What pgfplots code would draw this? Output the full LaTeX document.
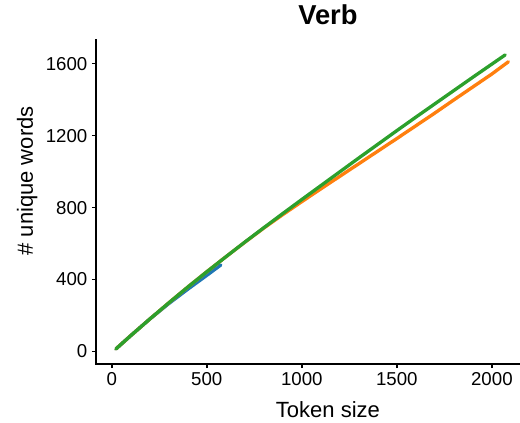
\documentclass[border=0pt]{standalone}
\usepackage{fontspec}
\setmainfont{Liberation Sans}
\usepackage{pgfplots}
\pgfplotsset{compat=1.18}

\definecolor{tabblue}{HTML}{1F77B4}
\definecolor{taborange}{HTML}{FF7F0E}
\definecolor{tabgreen}{HTML}{2CA02C}

\begin{document}
\begin{tikzpicture}
\begin{axis}[
  scale only axis,
  width=318pt, height=243pt,
  xmin=-83, xmax=2148,
  ymin=-70, ymax=1732,
  axis lines=left,
  axis line style={-, line width=1.3pt, line cap=rect},
  xtick={0,500,1000,1500,2000},
  ytick={0,400,800,1200,1600},
  tick align=outside,
  tick style={line width=1.1pt, black},
  major tick length=3pt,
  /pgf/number format/1000 sep={},
  /pgf/number format/assume math mode=true,
  ticklabel style={font=\fontsize{14}{16}\selectfont},
  xlabel={Token size},
  ylabel={\# unique words},
  label style={font=\fontsize{16.5}{19}\selectfont},
  xlabel style={at={(axis description cs:0.547,-0.142)}, anchor=center},
  ylabel style={at={(axis description cs:-0.162,0.565)}, anchor=center},
  title={Verb},
  title style={font=\bfseries\fontsize{20.5}{24}\selectfont,
    at={(axis description cs:0.547,1.054)}, anchor=center},
  every axis plot/.append style={line width=2.5pt, line join=round, line cap=round},
]
% blue series (shortest run)
\addplot[tabblue] coordinates {
  (22,14) (100,88) (200,180) (300,266) (400,346) (500,423) (574,481)
};
% orange series
\addplot[taborange] coordinates {
  (22,14) (100,88) (200,180) (300,270) (400,358) (500,443) (600,526)
  (700,607) (800,686) (900,761) (1000,833) (1100,904) (1200,974)
  (1300,1044) (1400,1114) (1500,1184) (1600,1255) (1700,1326)
  (1800,1399) (1900,1471) (2000,1543) (2087,1611)
};
% green series
\addplot[tabgreen] coordinates {
  (22,14) (100,88) (200,180) (300,270) (400,358) (500,443) (600,526)
  (700,608) (800,688) (900,767) (1000,845) (1100,922) (1200,999)
  (1300,1076) (1400,1152) (1500,1228) (1600,1303) (1700,1377)
  (1800,1451) (1900,1525) (2000,1598) (2070,1649)
};
\end{axis}
\pgfresetboundingbox
\path[use as bounding box]
  ([shift={(-72pt,-43.5pt)}]current axis.south west)
  rectangle ([shift={(0pt,30pt)}]current axis.north east);
\end{tikzpicture}
\end{document}
